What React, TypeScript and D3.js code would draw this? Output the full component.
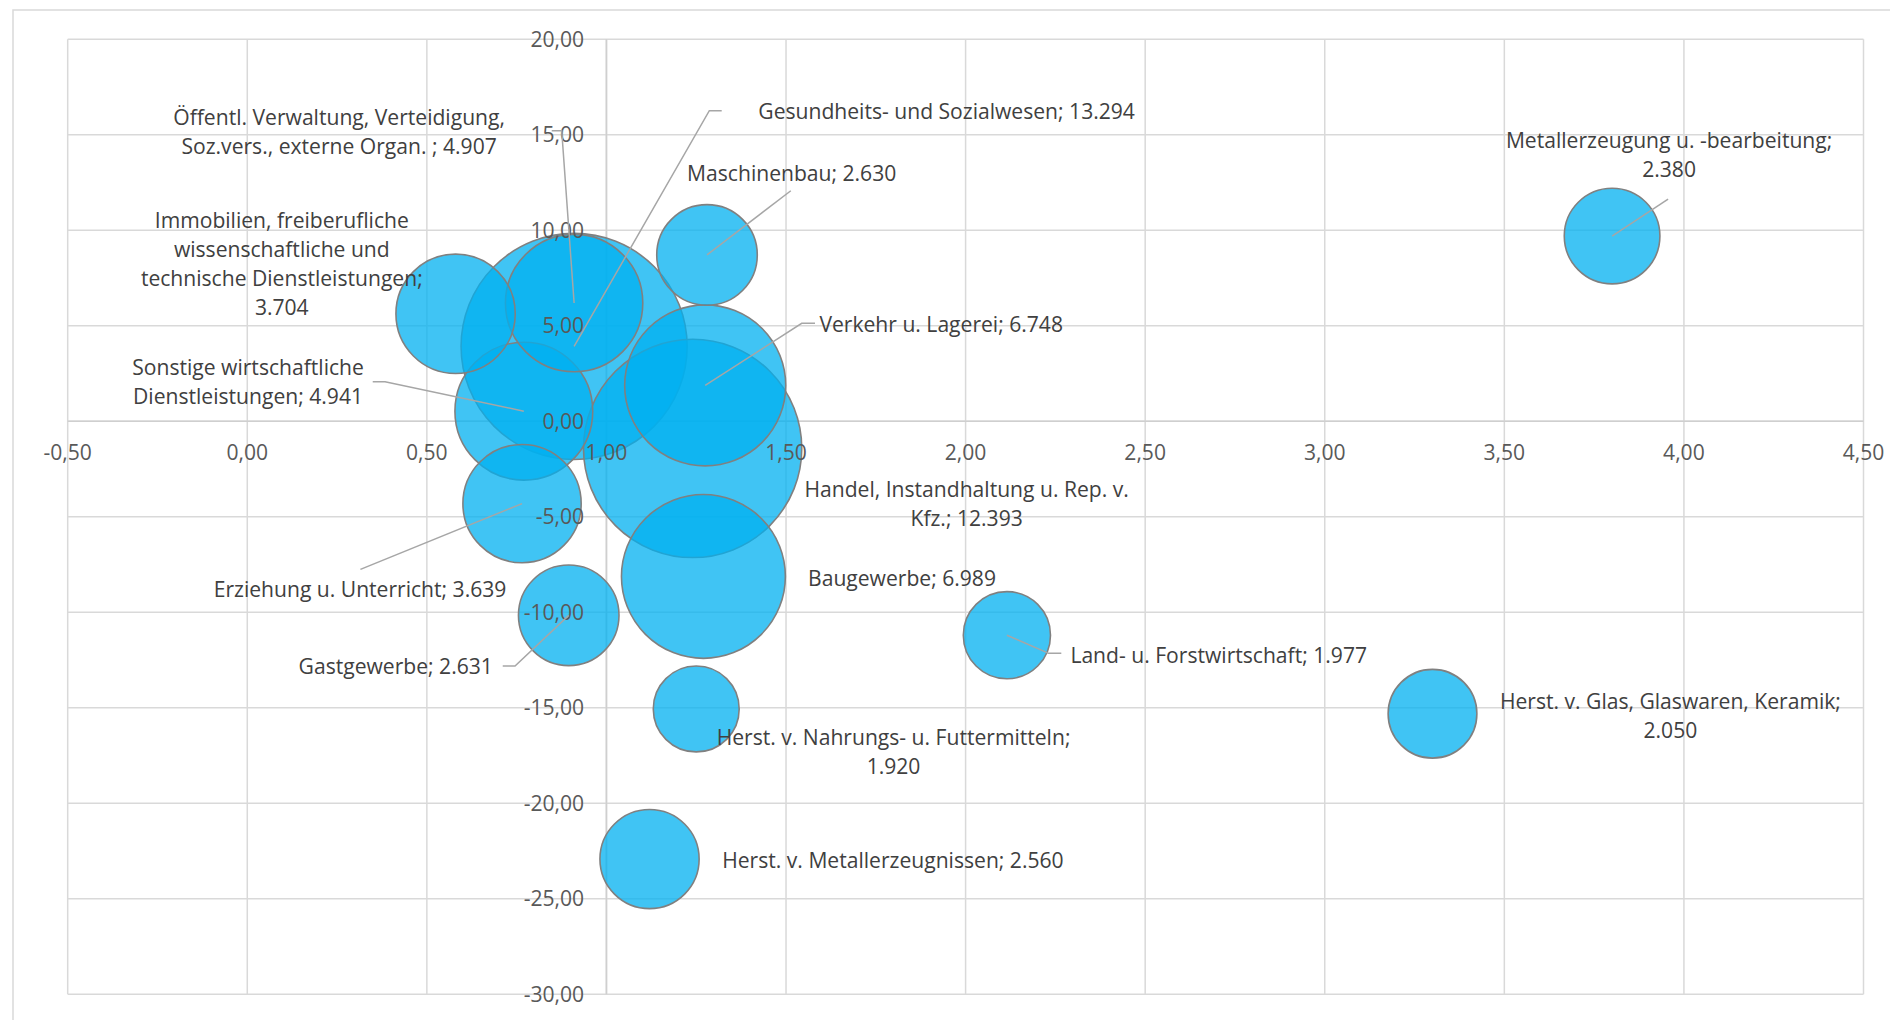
import React from "react";
import * as d3 from "d3";

// ---------- data ----------
const names = [
  "Metallerzeugung u. -bearbeitung",
  "Gesundheits- und Sozialwesen",
  "Öffentl. Verwaltung, Verteidigung, Soz.vers., externe Organ. ",
  "Immobilien, freiberufliche wissenschaftliche und technische Dienstleistungen",
  "Maschinenbau",
  "Verkehr u. Lagerei",
  "Sonstige wirtschaftliche Dienstleistungen",
  "Handel, Instandhaltung u. Rep. v. Kfz.",
  "Erziehung u. Unterricht",
  "Gastgewerbe",
  "Baugewerbe",
  "Herst. v. Nahrungs- u. Futtermitteln",
  "Herst. v. Metallerzeugnissen",
  "Land- u. Forstwirtschaft",
  "Herst. v. Glas, Glaswaren, Keramik",
];
const xValues = [3.8, 0.91, 0.91, 0.58, 1.28, 1.275, 0.77, 1.24, 0.765, 0.895, 1.27, 1.25, 1.12, 2.115, 3.3];
const yValues = [9.7, 3.92, 6.19, 5.63, 8.71, 1.88, 0.53, -1.42, -4.31, -10.16, -8.12, -15.06, -22.92, -11.2, -15.31];
const sizes = [2380, 13294, 4907, 3704, 2630, 6748, 4941, 12393, 3639, 2631, 6989, 1920, 2560, 1977, 2050];

const xTicks = [-0.5, 0, 0.5, 1, 1.5, 2, 2.5, 3, 3.5, 4, 4.5];
const yTicks = [20, 15, 10, 5, 0, -5, -10, -15, -20, -25, -30];

// ---------- layout (label placement, px offsets from bubble centre) ----------
// words per line, label block offset (first line centre), leader start offset, stub length
const labelWords: number[][] = [
  [3, 1], [99], [3, 99], [2, 2, 2, 1], [99], [99], [2, 2], [5, 2],
  [99], [99], [99], [5, 1], [99], [99], [5, 1],
];
const labelOffsets: [number, number][] = [
  [57, -96], [372.5, -235], [-235, -186], [-173.8, -93.3], [84.7, -81.6],
  [236, -60.4], [-275.8, -43.2], [274, 41], [-162, 85.4], [-173, 51.3],
  [198.6, 1.9], [197.3, 28.4], [243.4, 1.6], [211.8, 19.8], [237.9, -12],
];
const leaders: ([number, number, number] | null)[] = [
  [56, -37, 0], [147.6, -235.7, -12.4], [-22.4, -172.4, 10], null, [83.8, -64.2, 0],
  [109.8, -62.1, -13.3], [-151.1, -29.5, 12.3], null, [-161.6, 65.7, 0], [-66, 50.6, 12.3],
  null, null, null, [54.4, 18.1, -12.6], null,
];

const W = 1890;
const H = 1020;
const FONT = "'Open Sans', 'Noto Sans', sans-serif";
const FS = 21.1;
const BASE = 7.5;
const LH = 29;

const de = d3.formatLocale({ decimal: ",", thousands: ".", grouping: [3], currency: ["", " €"], minus: "-" });
const fmtSize = de.format(",d");
const fmtTick = de.format(".2f");

export default function App() {
  const x = d3.scaleLinear().domain([-0.5, 4.5]).range([67.7, 1863.5]);
  const y = d3.scaleLinear().domain([-30, 20]).range([994.3, 39.3]);
  const r = d3.scaleSqrt().domain([0, d3.max(sizes) as number]).range([0, 31 * Math.sqrt(13.294)]);

  const items = names.map((n, i) => ({
    i,
    name: n,
    cx: x(xValues[i]),
    cy: y(yValues[i]),
    r: r(sizes[i]),
    size: sizes[i],
  }));
  const drawOrder = [...items].sort((a, b) => b.size - a.size);

  const x0 = x.range()[0];
  const x1 = x.range()[1];
  const yTop = y.range()[1];
  const yBot = y.range()[0];

  const labelLines = (i: number) => {
    const words = `${names[i]}; ${fmtSize(sizes[i])}`.split(" ").filter((w) => w.length > 0);
    const lines: string[] = [];
    let k = 0;
    for (const c of labelWords[i]) {
      if (k >= words.length) break;
      lines.push(words.slice(k, k + c).join(" "));
      k += c;
    }
    return lines;
  };

  return (
    <svg
      width={W}
      height={H}
      style={{ position: "absolute", left: 0, top: 0, background: "#fff" }}
      fontFamily={FONT}
    >
      <rect x={0} y={0} width={W} height={H} fill="#fff" />
      {/* chart frame */}
      <rect x={13} y={10} width={W + 100} height={H + 100} fill="none" stroke="#d9d9d9" strokeWidth={1.5} />

      {/* gridlines */}
      <g stroke="#d9d9d9" strokeWidth={1.5}>
        {xTicks.map((t) => (
          <line key={"vx" + t} x1={x(t)} x2={x(t)} y1={yTop} y2={yBot} />
        ))}
        {yTicks.map((t) => (
          <line key={"hy" + t} x1={x0} x2={x1} y1={y(t)} y2={y(t)} />
        ))}
      </g>
      {/* axis lines */}
      <g stroke="#cfcfcf" strokeWidth={1.6}>
        <line x1={x0} x2={x1} y1={y(0)} y2={y(0)} />
        <line x1={x(1)} x2={x(1)} y1={yTop} y2={yBot} />
      </g>

      {/* bubbles */}
      <g>
        {drawOrder.map((d) => (
          <circle
            key={d.name}
            cx={d.cx}
            cy={d.cy}
            r={d.r}
            fill="#00B0F0"
            fillOpacity={0.75}
            stroke="#808080"
            strokeWidth={1.6}
          />
        ))}
      </g>

      {/* tick labels */}
      <g fill="#595959" fontSize={FS}>
        {xTicks.map((t) => (
          <text key={"tx" + t} x={x(t)} y={y(0) + 31.5 + BASE} textAnchor="middle">
            {fmtTick(t)}
          </text>
        ))}
        {yTicks.map((t) => (
          <text key={"ty" + t} x={x(1) - 22.3} y={y(t) + BASE} textAnchor="end">
            {fmtTick(t)}
          </text>
        ))}
      </g>

      {/* leader lines */}
      <g stroke="#a6a6a6" strokeWidth={1.5} fill="none">
        {items.map((d) => {
          const l = leaders[d.i];
          if (!l) return null;
          const sx = d.cx + l[0];
          const sy = d.cy + l[1];
          const path = d3.path();
          path.moveTo(sx, sy);
          if (l[2] !== 0) path.lineTo(sx + l[2], sy);
          path.lineTo(d.cx, d.cy);
          return <path key={"ld" + d.i} d={path.toString()} />;
        })}
      </g>

      {/* data labels */}
      <g fill="#404040" fontSize={FS} textAnchor="middle">
        {items.map((d) => {
          const [dx, dy] = labelOffsets[d.i];
          const lines = labelLines(d.i);
          return (
            <text key={"lb" + d.i} x={d.cx + dx} y={d.cy + dy + BASE}>
              {lines.map((ln, j) => (
                <tspan key={j} x={d.cx + dx} dy={j === 0 ? 0 : LH}>
                  {ln}
                </tspan>
              ))}
            </text>
          );
        })}
      </g>
    </svg>
  );
}
